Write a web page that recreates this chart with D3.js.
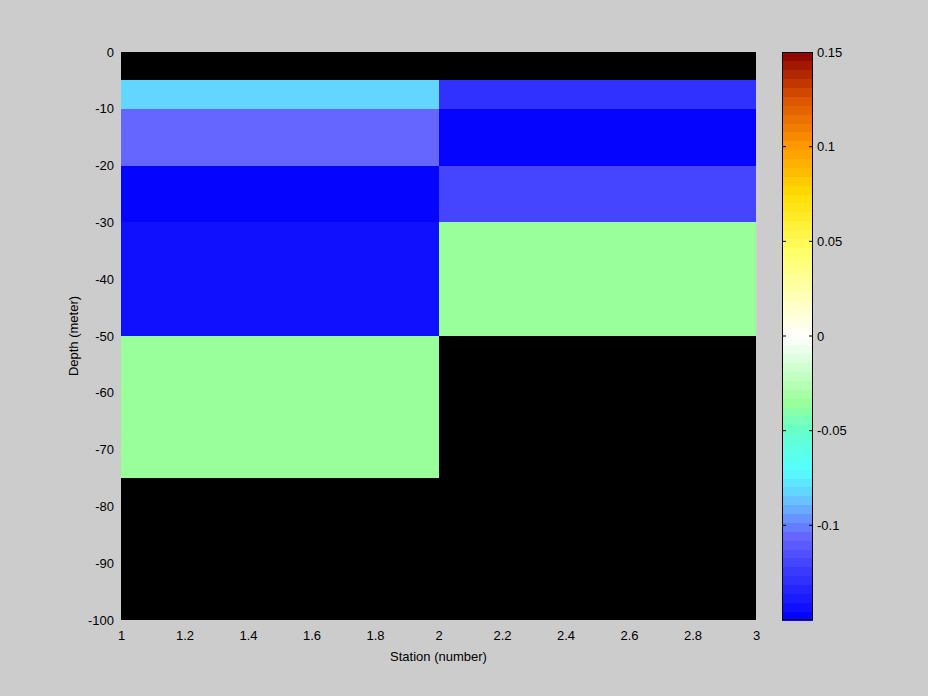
<!DOCTYPE html>
<html><head><meta charset="utf-8">
<script src="https://cdn.jsdelivr.net/npm/d3@7"></script>
<style>html,body{margin:0;padding:0;background:#cccccc;}svg{display:block;}</style>
</head><body>
<svg id="c" width="928" height="696"></svg>
<script>
// Data
const stationEdges = [1, 2, 3];
const depthEdges = [0, -5, -10, -20, -30, -50, -75, -100];
const station1 = [null, -0.083, -0.105, -0.148, -0.143, -0.035, null];
const station2 = [null, -0.128, -0.148, -0.118, -0.035, null, null];
const xTicks = [1, 1.2, 1.4, 1.6, 1.8, 2, 2.2, 2.4, 2.6, 2.8, 3];
const yTicks = [0, -10, -20, -30, -40, -50, -60, -70, -80, -90, -100];
const cbTicks = [0.15, 0.1, 0.05, 0, -0.05, -0.1];
const cStops = [-0.15, -0.105, -0.085, -0.07, -0.05, -0.035, 0, 0.045, 0.075, 0.1, 0.125, 0.15];
const cColors = ["#0000ff", "#6666ff", "#66ccff", "#55ffff", "#66ffcc", "#99ff99", "#ffffff", "#ffff66", "#ffdd00", "#ff9900", "#dd5500", "#880000"];

const svg = d3.select("#c");
const font = "Liberation Sans, Arial, sans-serif";
const fs = 13;
const fmt = d => String(+d.toFixed(4));
const L = 121, R = 756, T = 52, B = 620;
const x = d3.scaleLinear().domain([1, 3]).range([L, R]);
const y = d3.scaleLinear().domain([0, -100]).range([T, B]);

const cmin = -0.15, cmax = 0.15, nLev = 64;
const cont = d3.scaleLinear().domain(cStops).range(cColors).interpolate(d3.interpolateRgb);
const levels = d3.range(nLev).map(i => cont(cmin + (i + 0.5) * (cmax - cmin) / nLev));
const colorOf = v => {
  let i = Math.floor((v - cmin) / (cmax - cmin) * nLev);
  i = Math.max(0, Math.min(nLev - 1, i));
  return levels[i];
};

// plot background (NaN)
svg.append("rect").attr("x", L).attr("y", T).attr("width", R - L).attr("height", B - T).attr("fill", "#000");

const series = [station1, station2];
series.forEach((vals, si) => {
  vals.forEach((v, di) => {
    if (v === null) return;
    const x0 = x(stationEdges[si]), x1 = x(stationEdges[si + 1]);
    const y0 = y(depthEdges[di]), y1 = y(depthEdges[di + 1]);
    svg.append("rect").attr("x", x0).attr("y", y0).attr("width", x1 - x0).attr("height", y1 - y0)
      .attr("fill", colorOf(v)).attr("shape-rendering", "crispEdges");
  });
});

// axes
const xAxis = d3.axisBottom(x).tickValues(xTicks).tickSize(0).tickPadding(8).tickFormat(fmt);
const gx = svg.append("g").attr("transform", `translate(0,${B})`).call(xAxis);
const yAxis = d3.axisLeft(y).tickValues(yTicks).tickSize(0).tickPadding(7).tickFormat(fmt);
const gy = svg.append("g").attr("transform", `translate(${L},0)`).call(yAxis);
[gx, gy].forEach(g => {
  g.select(".domain").remove();
  g.selectAll("text").attr("font-family", font).attr("font-size", fs).attr("fill", "#000");
});
gx.selectAll("text").attr("dy", "0.9em");

svg.append("text").attr("x", (L + R) / 2).attr("y", 661).attr("text-anchor", "middle")
  .attr("font-family", font).attr("font-size", fs).text("Station (number)");
svg.append("text").attr("transform", `translate(78,${(T + B) / 2}) rotate(-90)`).attr("text-anchor", "middle")
  .attr("font-family", font).attr("font-size", fs).text("Depth (meter)");

// colorbar
const CL = 782, CR = 813;
const cy = d3.scaleLinear().domain([cmin, cmax]).range([B, T]);
const cb = svg.append("g");
levels.forEach((c, i) => {
  const v0 = cmin + i * (cmax - cmin) / nLev, v1 = cmin + (i + 1) * (cmax - cmin) / nLev;
  cb.append("rect").attr("x", CL).attr("y", cy(v1)).attr("width", CR - CL).attr("height", cy(v0) - cy(v1) + 0.5)
    .attr("fill", c).attr("shape-rendering", "crispEdges");
});
cb.append("rect").attr("x", CL + 0.5).attr("y", T + 0.5).attr("width", CR - CL - 1).attr("height", B - T - 1)
  .attr("fill", "none").attr("stroke", "#000").attr("stroke-width", 1);
const cAxis = d3.axisRight(cy).tickValues(cbTicks).tickSize(0).tickPadding(4).tickFormat(fmt);
const gc = svg.append("g").attr("transform", `translate(${CR},0)`).call(cAxis);
gc.select(".domain").remove();
gc.selectAll("text").attr("font-family", font).attr("font-size", fs).attr("fill", "#000");
cbTicks.forEach(t => {
  if (t === 0.15) return;
  cb.append("line").attr("x1", CL).attr("x2", CL + 4).attr("y1", cy(t)).attr("y2", cy(t)).attr("stroke", "#000");
  cb.append("line").attr("x1", CR - 4).attr("x2", CR).attr("y1", cy(t)).attr("y2", cy(t)).attr("stroke", "#000");
});
</script>
</body></html>
